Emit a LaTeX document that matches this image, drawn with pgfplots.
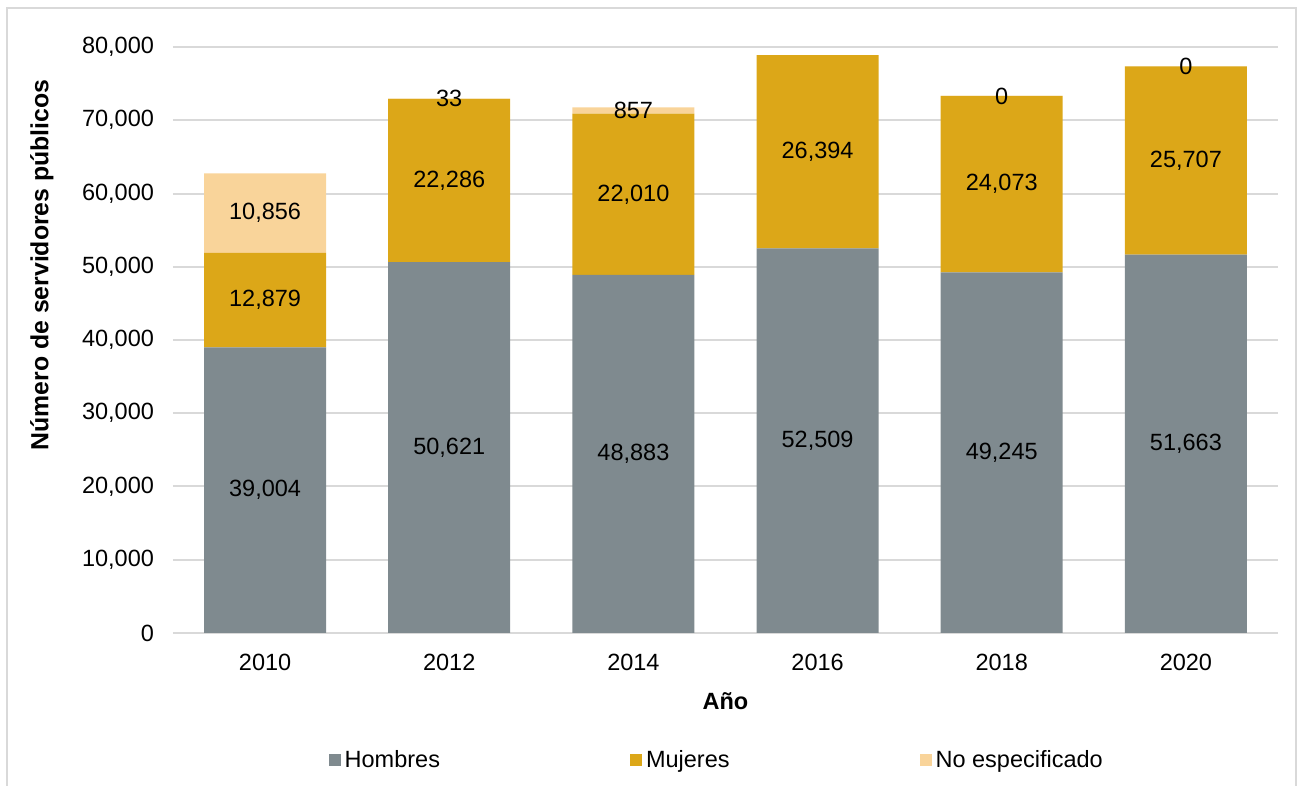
\documentclass[border=0pt]{standalone}
\usepackage{pgfplots}
\usepackage{pgfplotstable}
\pgfplotsset{compat=1.18}
\usepackage{fontspec}
\setmainfont{Liberation Sans}
\definecolor{hom}{HTML}{7F8A8F}
\definecolor{muj}{HTML}{DCA718}
\definecolor{noe}{HTML}{F9D49A}
\definecolor{gridg}{HTML}{D9D9D9}
\pgfplotsset{/pgf/number format/assume math mode=true}
\pgfplotstableread{
x h m n hl ml nl
0 39004 12879 10856 39,004 12,879 10,856
1 50621 22286 33 50,621 22,286 33
2 48883 22010 857 48,883 22,010 857
3 52509 26394 0 52,509 26,394 {}
4 49245 24073 1 49,245 24,073 0
5 51663 25707 1 51,663 25,707 0
}\data
\begin{document}
\begin{tikzpicture}[font=\fontsize{11.75}{14}\selectfont]
\useasboundingbox (0,0) rectangle (651pt,393pt);
\draw[gridg, line width=0.7pt] (3.5pt,-2pt) rectangle (648pt,389pt);
\begin{axis}[at={(86.5pt,76.5pt)}, anchor=south west, scale only axis,
  width=552.5pt, height=293pt,
  ybar stacked, bar width=61pt,
  xmin=-0.5, xmax=5.5, ymin=0, ymax=80000,
  xtick={0,...,5}, xticklabels={2010,2012,2014,2016,2018,2020},
  ytick={0,10000,...,80000},
  scaled y ticks=false,
  yticklabel style={/pgf/number format/fixed, /pgf/number format/precision=0, /pgf/number format/1000 sep={,}, xshift=-6pt},
  xticklabel style={yshift=-7pt},
  axis line style={draw=none},
  tick style={draw=none},
  ymajorgrids, major grid style={gridg, line width=1pt},
  clip=false,
  ylabel={\fontsize{12.4}{15}\selectfont\bfseries Número de servidores públicos},
  ylabel style={at={(rel axis cs:-0.1186,0.628)}, anchor=center},
  xlabel={\bfseries Año},
  xlabel style={at={(rel axis cs:0.5,-0.116)}, anchor=center},
  legend style={at={(rel axis cs:0.493,-0.217)}, anchor=center, draw=none, fill=none,
    legend columns=3, /tikz/every even column/.append style={column sep=93pt}},
  legend image code/.code={\fill[#1] (0pt,-3pt) rectangle (6pt,3pt);},
  point meta=explicit symbolic,
  nodes near coords,
  every node near coord/.append style={anchor=center, text=black},
]
\addplot[fill=hom, draw=none] table[x=x, y=h, meta=hl] {\data};
\addplot[fill=muj, draw=none] table[x=x, y=m, meta=ml] {\data};
\addplot[fill=noe, draw=none] table[x=x, y=n, meta=nl] {\data};
\legend{Hombres,Mujeres,No especificado}
\end{axis}
\end{tikzpicture}
\end{document}
